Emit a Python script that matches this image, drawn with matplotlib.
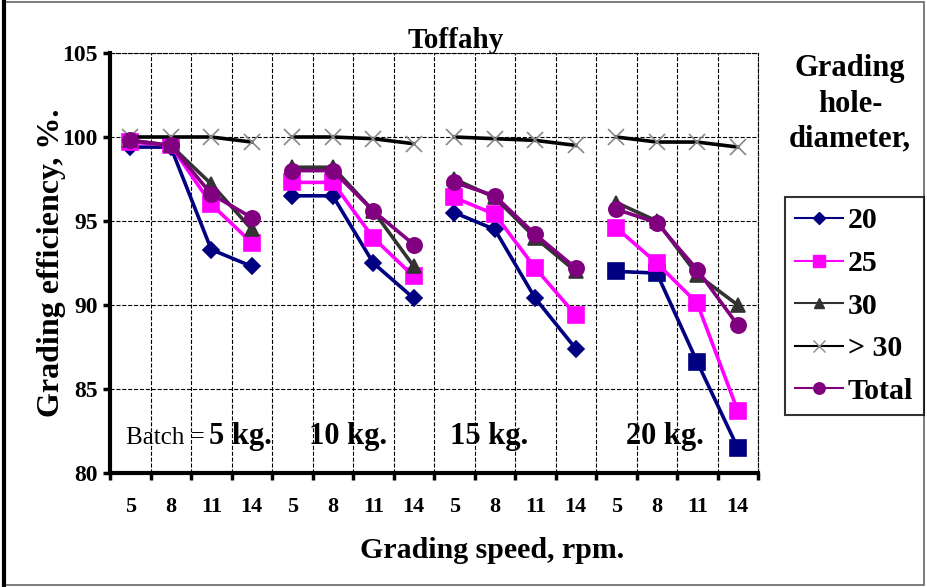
import matplotlib
matplotlib.use("Agg")
import matplotlib.pyplot as plt
from matplotlib.patches import Rectangle
from matplotlib.lines import Line2D

plt.rcParams["font.family"] = ["Liberation Serif", "DejaVu Serif"]
plt.rcParams["font.weight"] = "bold"

# Data
speeds = [5, 8, 11, 14] * 4
batches = ["5 kg.", "10 kg.", "15 kg.", "20 kg."]
s20 = [99.4, 99.4, 93.3, 92.3, 96.5, 96.5, 92.5, 90.4, 95.5, 94.5, 90.4, 87.4, 92.0, 91.9, 86.6, 81.5]
s25 = [99.7, 99.5, 96.0, 93.7, 97.3, 97.3, 94.0, 91.7, 96.4, 95.4, 92.2, 89.4, 94.6, 92.5, 90.1, 83.7]
s30 = [99.8, 99.5, 97.2, 94.5, 98.2, 98.2, 95.6, 92.3, 97.5, 96.4, 94.0, 92.0, 96.1, 95.0, 91.8, 90.0]
sgt30 = [100.0, 100.0, 100.0, 99.7, 100.0, 100.0, 99.9, 99.6, 100.0, 99.9, 99.8, 99.5, 100.0, 99.7, 99.7, 99.4]
total = [99.8, 99.5, 96.6, 95.2, 98.0, 98.0, 95.6, 93.6, 97.3, 96.5, 94.2, 92.2, 95.7, 94.9, 92.1, 88.8]

series = [
    ("20", s20, "#000080", ["D", "D", "D", "s"], [8.5, 8.5, 8.5, 11], "#000080"),
    ("25", s25, "#FF00FF", ["s"] * 4, [11] * 4, "#FF00FF"),
    ("30", s30, "#333333", ["^"] * 4, [10] * 4, "#333333"),
    ("> 30", sgt30, "#000000", ["x"] * 4, [12] * 4, "#888888"),
    ("Total", total, "#800080", ["o"] * 4, [11] * 4, "#800080"),
]

fig = plt.figure(figsize=(9.27, 5.87), dpi=100)
ax = fig.add_axes([0.1187, 0.1942, 0.699, 0.7155])

xs = list(range(len(speeds)))
handles = []
for label, vals, col, mks, ms, mcol in series:
    for g in range(4):
        sl = slice(4 * g, 4 * g + 4)
        ax.plot(xs[sl], vals[sl], color=col, linewidth=2.6, marker=mks[g],
                markersize=ms[g], markerfacecolor=mcol, markeredgecolor=mcol,
                markeredgewidth=1.2, clip_on=False)
    handles.append(Line2D([], [], color=col, linewidth=1.5, marker=mks[0],
                          markersize=ms[0] * 0.75, markerfacecolor=mcol,
                          markeredgecolor=mcol, label=label))

ax.set_xlim(-0.5, 15.5)
ax.set_ylim(80, 105)
ax.set_yticks(range(80, 106, 5))
ax.set_xticks(xs)
ax.set_xticklabels([str(s) for s in speeds])
ax.set_xticks([i - 0.5 for i in range(17)], minor=True)
ax.tick_params(axis="x", which="major", length=0, pad=17, labelsize=16)
ax.tick_params(axis="x", which="minor", length=5, width=2.5, direction="out")
ax.tick_params(axis="y", length=5, width=2.5, labelsize=17, pad=4)
ax.grid(True, axis="y", which="major", color="black", linestyle="--", linewidth=0.8)
ax.grid(True, axis="x", which="minor", color="black", linestyle="--", linewidth=0.8)
for s in ["left", "bottom"]:
    ax.spines[s].set_linewidth(3)
for s in ["top", "right"]:
    ax.spines[s].set_linestyle("--")
    ax.spines[s].set_linewidth(0.8)

ax.set_ylabel("Grading efficiency, %.", fontsize=23, fontweight="bold")
ax.yaxis.set_label_coords(-0.068, 0.5)
ax.set_xlabel("Grading speed, rpm.", fontsize=21.5, fontweight="bold")
ax.xaxis.set_label_coords(0.59, -0.152)

# batch labels
ax.text(0.86, 82.1, "Batch =", fontsize=18, ha="center", va="center", fontweight="normal")
ax.text(2.72, 82.2, batches[0], fontsize=22, ha="center", va="center")
for xpos, b in zip([5.38, 8.86, 13.2], batches[1:]):
    ax.text(xpos, 82.2, b, fontsize=22, ha="center", va="center")

fig.text(456 / 927, 1 - 40 / 587, "Toffahy", fontsize=21, ha="center", va="center")
fig.text(850 / 927, 1 - 104 / 587, "Grading\nhole-\ndiameter,", fontsize=22,
         ha="center", va="center", linespacing=1.28)

leg = fig.legend(handles=handles, loc="upper left", bbox_to_anchor=(785 / 927, 1 - 197 / 587),
                 fontsize=21.5, frameon=True, fancybox=False, edgecolor="black",
                 handlelength=1.6, handletextpad=0.15, labelspacing=0.52, borderpad=0.35,
                 borderaxespad=0)
leg.get_frame().set_linewidth(1.5)

# figure border
fig.patches.append(Rectangle((0.003, 0.003), 0.994, 0.994, transform=fig.transFigure,
                             fill=False, edgecolor="#666666", linewidth=1.2))
fig.lines.append(Line2D([0.004, 0.004], [0.0, 1.0], transform=fig.transFigure,
                        color="black", linewidth=3))

fig.savefig("out.png", dpi=100)
